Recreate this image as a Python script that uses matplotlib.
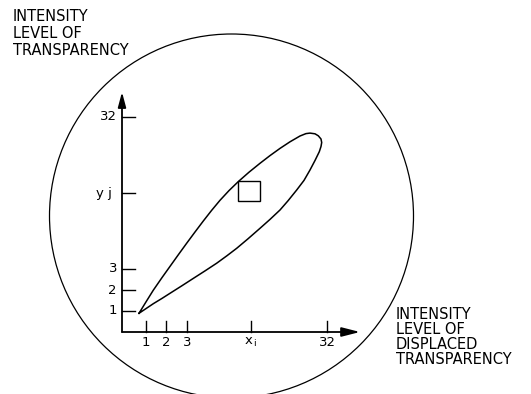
import matplotlib
matplotlib.use("Agg")
import matplotlib.pyplot as plt
from matplotlib.patches import Circle, Rectangle

# ---- data (schematic units, origin at axes intersection) ----
x_tick_pos = [24, 44, 65, 129, 205]
x_tick_labels = ["1", "2", "3", r"$\mathregular{x_{\,i}}$", "32"]
y_tick_pos = [21, 42, 63, 139, 215]
y_tick_labels = ["1", "2", "3", "y j", "32"]

# closed outline of the scatter region (upper edge, rounded end, lower edge)
loop_x = [17, 24, 31.3, 40, 48, 56, 64.7, 73, 81.3, 89.6, 98, 107, 116.3, 127, 138,
          148, 158, 168, 178, 184, 188, 193, 196.3, 199, 199.7, 199, 197.3,
          193, 188, 182, 174.7, 166, 158, 148, 138, 126, 114.7, 105, 94.7, 83,
          71.3, 60, 48, 40, 31.3, 24, 17]
loop_y = [18.7, 30.1, 41.8, 54.4, 65.6, 76.8, 88.8, 100, 111, 121.6, 131.7, 141.4,
          150.4, 159.8, 168.7, 176.4, 183.6, 190.2, 196, 198.4, 198.9, 198.2,
          196.2, 193, 189.5, 185.5, 180.3,
          171.5, 162, 151.6, 142, 131.2, 122, 112.6, 103.7, 93.2, 83.7, 76.3,
          68.8, 61.1, 53.6, 46.3, 38.7, 33.6, 28.3, 23.4, 18.7]

square_xy = (116.3, 131.3)
square_w, square_h = 21.7, 19.7

circle_center = (109.5, 116)
circle_radius = 182

x_axis_end = 238
y_axis_end = 240

left_label = "INTENSITY\nLEVEL OF\nTRANSPARENCY"
right_label = "INTENSITY\nLEVEL OF\nDISPLACED\nTRANSPARENCY"

# ---- figure ----
fig = plt.figure(figsize=(5.31, 3.94), dpi=100)
ax = fig.add_axes([0, 0, 1, 1])
ax.set_xlim(-122, 409)
ax.set_ylim(-62, 332)
ax.axis("off")

ax.add_patch(Circle(circle_center, circle_radius, fill=False, lw=0.9, color="black"))

# axes with arrows
ax.annotate("", xy=(0, y_axis_end), xytext=(0, 0),
            arrowprops=dict(arrowstyle="-|>,head_length=0.45,head_width=0.12",
                            mutation_scale=20, lw=1.3, color="black",
                            shrinkA=0, shrinkB=0))
ax.annotate("", xy=(x_axis_end, 0), xytext=(0, 0),
            arrowprops=dict(arrowstyle="-|>,head_length=0.55,head_width=0.14",
                            mutation_scale=20, lw=1.3, color="black",
                            shrinkA=0, shrinkB=0))

fs_tick = 9.5
for xp, lab in zip(x_tick_pos, x_tick_labels):
    ax.plot([xp, xp], [0, 11], color="black", lw=1.0)
    ax.text(xp, -4, lab, ha="center", va="top", fontsize=fs_tick)
for yp, lab in zip(y_tick_pos, y_tick_labels):
    ax.plot([0, 13], [yp, yp], color="black", lw=1.0)
    ax.text(-5 if lab != "y j" else -10, yp, lab, ha="right", va="center",
            fontsize=fs_tick)

ax.plot(loop_x, loop_y, color="black", lw=1.1, solid_joinstyle="round")
ax.add_patch(Rectangle(square_xy, square_w, square_h, fill=False, lw=1.0, color="black"))

fs_lab = 10.5
ax.text(-109, 323, left_label, ha="left", va="top", fontsize=fs_lab,
        linespacing=1.15)
ax.text(274, 25, right_label, ha="left", va="top", fontsize=fs_lab,
        linespacing=1.0)

fig.savefig("out.png", dpi=100)
